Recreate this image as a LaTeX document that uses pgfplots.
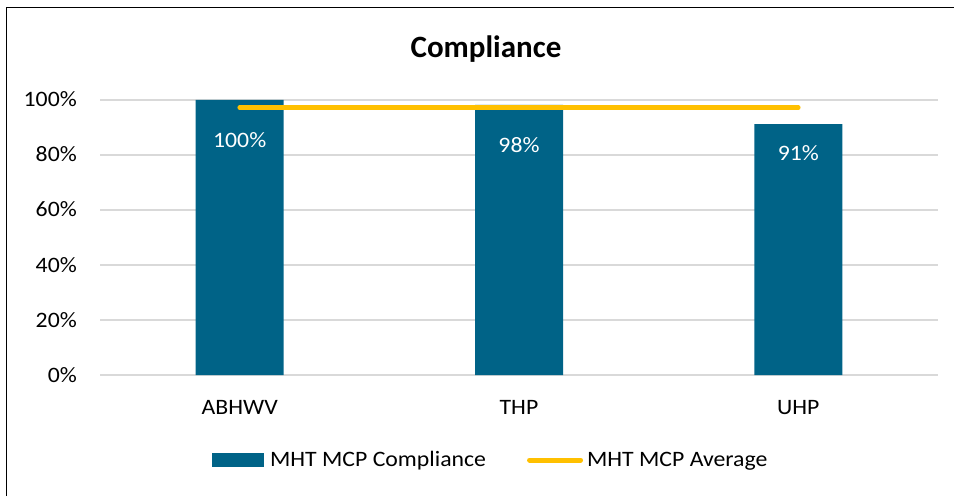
\documentclass[border=0pt]{standalone}
\usepackage{pgfplots}
\pgfplotsset{compat=1.18}
\usepackage{fontspec}
\setmainfont{Carlito}
\newfontfamily\lblfont[FakeStretch=1.08]{Carlito}
\definecolor{barblue}{RGB}{0,99,135}
\definecolor{avggold}{RGB}{255,192,0}
\definecolor{gridgray}{RGB}{217,217,217}
\newcommand{\lbl}{\lblfont\fontsize{22}{26}\selectfont}
\begin{document}
\begin{tikzpicture}[x=1pt,y=1pt]
\useasboundingbox (0,0) rectangle (954,496);
\draw[black,line width=1.6pt] (6.5,0) -- (6.5,488.5) -- (954,488.5);
\node[anchor=base,font=\bfseries\fontsize{31}{36}\selectfont] at (486,438.3) {Compliance};
\begin{axis}[
  at={(100pt,121pt)}, anchor=south west,
  scale only axis, width=838pt, height=275pt,
  xmin=-0.5, xmax=2.5, ymin=0, ymax=100,
  clip=false,
  xtick={0,1,2}, xticklabels={ABHWV,THP,UHP},
  ytick={0,20,40,60,80,100},
  yticklabel={\pgfmathprintnumber{\tick}\%},
  /pgf/number format/assume math mode=true,
  axis line style={draw=none}, tick style={draw=none},
  ymajorgrids, grid style={gridgray, line width=1.3pt},
  ticklabel style={font=\lbl},
  yticklabel style={anchor=base east, inner sep=0pt, xshift=-23pt, yshift=-7pt},
  xticklabel style={anchor=base, inner sep=0pt, yshift=-39pt},
  legend columns=2,
  legend style={at={(axis description cs:0.4653,-0.3091)}, anchor=center, draw=none,
    font=\lbl, nodes={inner sep=0pt},
    /tikz/every odd column/.append style={column sep=4pt},
    /tikz/every even column/.append style={column sep=41pt}},
]
\addplot[ybar, bar width=88pt, fill=barblue, draw=none,
  legend image code/.code={\fill[barblue] (0pt,-6.65pt) rectangle (51.6pt,6.65pt); \path (53.6pt,0pt);}]
  coordinates {(0,100) (1,98.2) (2,91.2)};
\addlegendentry{MHT MCP Compliance}
\addplot[avggold, line width=4.5pt, line cap=round,
  legend image code/.code={\draw[avggold, line width=5pt, line cap=round] (2.5pt,0pt) -- (53.5pt,0pt);}]
  coordinates {(0,97.2) (1,97.2) (2,97.2)};
\addlegendentry{MHT MCP Average}
\addplot[draw=none, nodes near coords, point meta=explicit symbolic,
  nodes near coords style={white, anchor=center, font=\lbl},
  forget plot]
  coordinates {(0,85.6)[100\%] (1,83.6)[98\%] (2,80.7)[91\%]};
\end{axis}
\end{tikzpicture}
\end{document}
